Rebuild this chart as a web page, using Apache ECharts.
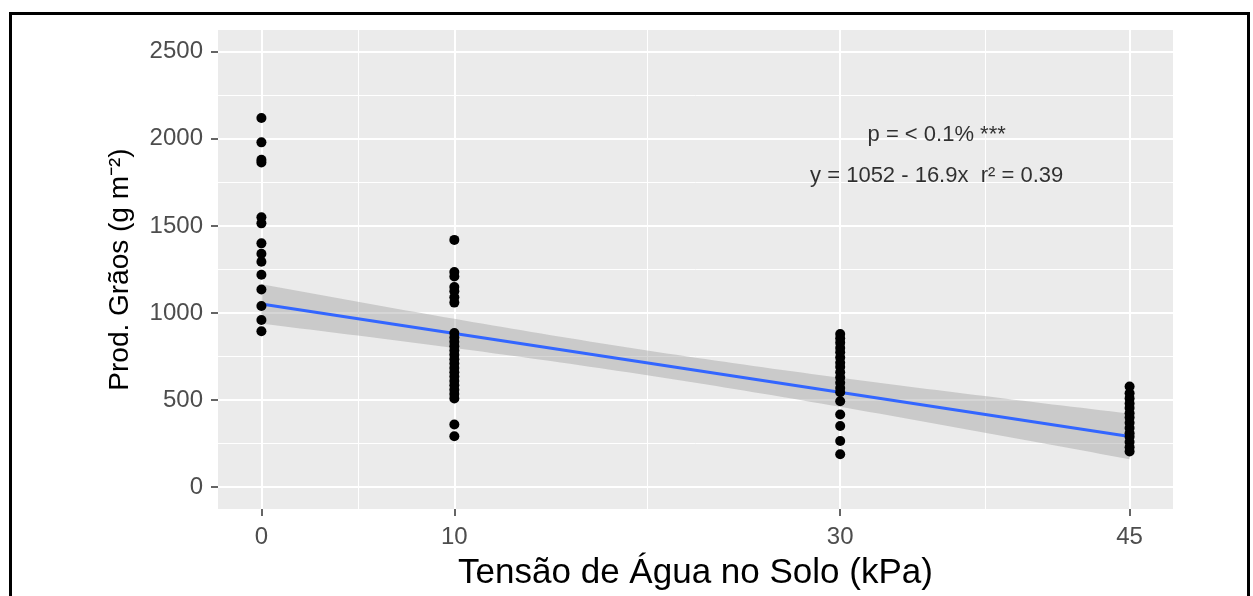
<!DOCTYPE html>
<html>
<head>
<meta charset="utf-8">
<script src="https://cdn.jsdelivr.net/npm/echarts@6.0.0/dist/echarts.min.js"></script>
<style>
  html, body { margin: 0; padding: 0; background: #fff; overflow: hidden; }
  #chart { width: 1253px; height: 596px; }
  .frame { position: absolute; left: 9px; top: 12px; width: 1235px; height: 700px; border: 3px solid #000; pointer-events: none; }
</style>
</head>
<body>
<div id="chart"></div>
<div class="frame"></div>
<script>
// soil water tension levels (kPa) and grain yield readings (g m-2) for each
const tensions = [0, 10, 30, 45];
const prodT0 = [2120, 1980, 1880, 1865, 1550, 1515, 1400, 1340, 1295, 1220, 1135, 1040, 960, 895];
const prodT10 = [1420, 1235, 1210, 1150, 1125, 1090, 1060, 885, 860, 835, 810, 785, 760, 735, 710,
  685, 660, 635, 610, 585, 560, 535, 510, 360, 293];
const prodT30 = [880, 855, 830, 800, 775, 745, 715, 690, 660, 630, 600, 570, 545, 494, 418, 351, 265, 189];
const prodT45 = [578, 540, 510, 480, 455, 425, 400, 370, 340, 310, 290, 260, 230, 205];

// axis breaks
const xBreaks = [0, 10, 30, 45];
const xMinorBreaks = [5, 20, 37.5];
const yBreaks = [0, 500, 1000, 1500, 2000, 2500];
const yMinorBreaks = [250, 750, 1250, 1750, 2250];

// fitted model printed on the chart
const fitIntercept = 1052;
const fitSlope = -16.9;
const residualSD = 300; // estimated from the width of the grey band
const annotX = 35;
const annotY = [2020, 1790];
const annotText = ['p = < 0.1% ***', 'y = 1052 - 16.9x  r\u00b2 = 0.39'];

const FONT = '"Liberation Sans", Arial, Helvetica, sans-serif';

const groups = [prodT0, prodT10, prodT30, prodT45];
const points = [];
groups.forEach((vals, i) => vals.forEach(v => points.push([tensions[i], v])));

// confidence band of the linear fit (like geom_smooth)
const n = points.length;
const xMean = points.reduce((s, p) => s + p[0], 0) / n;
const sxx = points.reduce((s, p) => s + (p[0] - xMean) * (p[0] - xMean), 0);
const tCrit = 2.0;
const ribbon = [];
for (let x = 0; x <= 45.0001; x += 0.5) {
  const yHat = fitIntercept + fitSlope * x;
  const se = residualSD * Math.sqrt(1 / n + (x - xMean) * (x - xMean) / sxx);
  ribbon.push([x, yHat - tCrit * se, yHat + tCrit * se]);
}
const fitLine = [0, 45].map(x => [x, fitIntercept + fitSlope * x]);

const gridLines = []
  .concat(yBreaks.map(v => ({ yAxis: v, lineStyle: { width: 2 } })))
  .concat(yMinorBreaks.map(v => ({ yAxis: v, lineStyle: { width: 1 } })))
  .concat(xBreaks.map(v => ({ xAxis: v, lineStyle: { width: 2 } })))
  .concat(xMinorBreaks.map(v => ({ xAxis: v, lineStyle: { width: 1 } })));

const tickStyle = { show: true, length: 7, lineStyle: { color: '#333333', width: 1.5 } };
const hiddenLine = { show: true, onZero: false, lineStyle: { color: 'rgba(0,0,0,0)' } };

const chart = echarts.init(document.getElementById('chart'));
chart.setOption({
  animation: false,
  textStyle: { fontFamily: FONT },
  grid: {
    left: 218, top: 30, width: 955, height: 480,
    show: true, backgroundColor: '#EBEBEB', borderWidth: 0
  },
  xAxis: {
    type: 'value', min: -2.25, max: 47.25,
    axisLine: hiddenLine,
    axisTick: Object.assign({ customValues: xBreaks }, tickStyle),
    axisLabel: {
      customValues: xBreaks, color: '#4D4D4D', fontSize: 24, margin: 16, fontFamily: FONT,
      formatter: v => String(v)
    },
    splitLine: { show: false },
    name: 'Tensão de Água no Solo (kPa)',
    nameLocation: 'middle', nameGap: 47,
    nameTextStyle: { fontSize: 35, color: '#000', fontFamily: FONT }
  },
  yAxis: {
    type: 'value', min: -125, max: 2625,
    axisLine: hiddenLine,
    axisTick: Object.assign({ customValues: yBreaks }, tickStyle),
    axisLabel: {
      customValues: yBreaks, color: '#4D4D4D', fontSize: 24, margin: 15, fontFamily: FONT,
      formatter: v => String(v)
    },
    splitLine: { show: false },
    name: 'Prod. Grãos (g m\u207b\u00b2)',
    nameLocation: 'middle', nameGap: 84,
    nameTextStyle: { fontSize: 28, color: '#000', fontFamily: FONT }
  },
  series: [
    {
      name: 'grid', type: 'scatter', z: 1, silent: true,
      data: [[0, 0]], symbolSize: 0,
      markLine: {
        z: 0, silent: true, symbol: ['none', 'none'], label: { show: false },
        lineStyle: { color: '#FFFFFF', type: 'solid' },
        emphasis: { disabled: true },
        data: gridLines
      }
    },
    {
      name: 'band', type: 'custom', z: 2, silent: true,
      data: ribbon,
      encode: { x: 0, y: [1, 2] },
      renderItem: function (params, api) {
        if (params.dataIndex !== 0) return;
        const upper = ribbon.map(d => api.coord([d[0], d[2]]));
        const lower = ribbon.map(d => api.coord([d[0], d[1]])).reverse();
        return {
          type: 'polygon',
          shape: { points: upper.concat(lower) },
          style: { fill: 'rgba(153,153,153,0.4)' }
        };
      }
    },
    {
      name: 'fit', type: 'line', z: 3, silent: true,
      data: fitLine, showSymbol: false,
      lineStyle: { color: '#3366FF', width: 3 }
    },
    {
      name: 'obs', type: 'scatter', z: 4,
      data: points, symbolSize: 10,
      itemStyle: { color: '#000', opacity: 1 }
    },
    {
      name: 'annot', type: 'scatter', z: 5, silent: true,
      symbolSize: 0,
      data: annotY.map((y, i) => ({ value: [annotX, y], label: { formatter: annotText[i] } })),
      label: { show: true, position: 'inside', color: '#000', fontSize: 22, fontFamily: FONT }
    }
  ]
});
</script>
</body>
</html>
